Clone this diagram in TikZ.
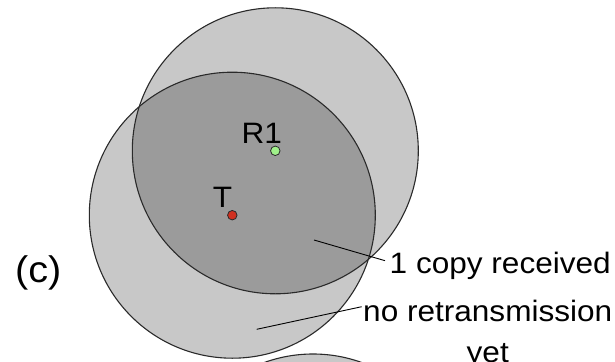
\documentclass[tikz,border=0pt]{standalone}
\usepackage{fontspec}
\newfontfamily\lbl{Liberation Sans}[FakeStretch=1.07]
\definecolor{rangelight}{HTML}{C8C8C8}
\definecolor{rangedark}{HTML}{9B9B9B}
\definecolor{rimgray}{HTML}{2A2A2A}
\definecolor{dotgreen}{HTML}{A0F08A}
\definecolor{dotred}{HTML}{D03020}
\tikzset{
  rangefill/.style={fill=rangelight},
  rim/.style={draw=rimgray, line width=1.1pt},
  station/.style={circle, draw=rimgray, line width=0.8pt, minimum size=9.5pt, inner sep=0pt},
  lbltext/.style={inner sep=0pt, font=\lbl\fontsize{29.5}{41}\selectfont},
  pointer/.style={draw=black, line width=0.9pt}
}
\begin{document}
\begin{tikzpicture}[x=1pt, y=-1pt]
\useasboundingbox (0,0) rectangle (615,361);
\clip (0,0) rectangle (615,361);
% centres of the two ranges
\coordinate (cT) at (232.3,215.2);
\coordinate (cR) at (275.3,150.8);
\coordinate (cX) at (313,497);
% ranges
\fill[rangefill] (cT) circle[radius=143pt];
\fill[rangefill] (cR) circle[radius=143pt];
\fill[rangefill] (cX) circle[radius=143pt];
\begin{scope}
  \clip (cT) circle[radius=143pt];
  \fill[rangedark] (cR) circle[radius=143pt];
\end{scope}
\draw[rim] (cR) circle[radius=143pt];
\draw[rim] (cT) circle[radius=143pt];
\draw[rim] (cX) circle[radius=143pt];
% stations
\node[station, fill=dotgreen] (R1) at (cR) {};
\node[station, fill=dotred] (T) at (cT) {};
% labels
\node[lbltext, anchor=base west] (R1lbl) at (241.5,143.3) {R1};
\node[lbltext, anchor=base west] (Tlbl) at (212.6,207.7) {T};
\node[lbltext, anchor=base west, font=\lbl\fontsize{37}{44}\selectfont] (panel) at (15,282.5) {(c)};
\node[lbltext, anchor=base west] (copy) at (389.5,273.3) {1 copy received};
\node[lbltext, anchor=base west] (retx) at (363,321.7) {\begin{tabular}[t]{@{}c@{}}no retransmission\\yet\end{tabular}};
% pointers
\coordinate (p1) at (314,240);
\coordinate (p2) at (256.7,329.3);
\draw[pointer] (p1) -- ([xshift=-4.5pt,yshift=5pt]copy.west);
\draw[pointer] (p2) -- ([xshift=-1.3pt,yshift=15pt]retx.base west);
\end{tikzpicture}
\end{document}
